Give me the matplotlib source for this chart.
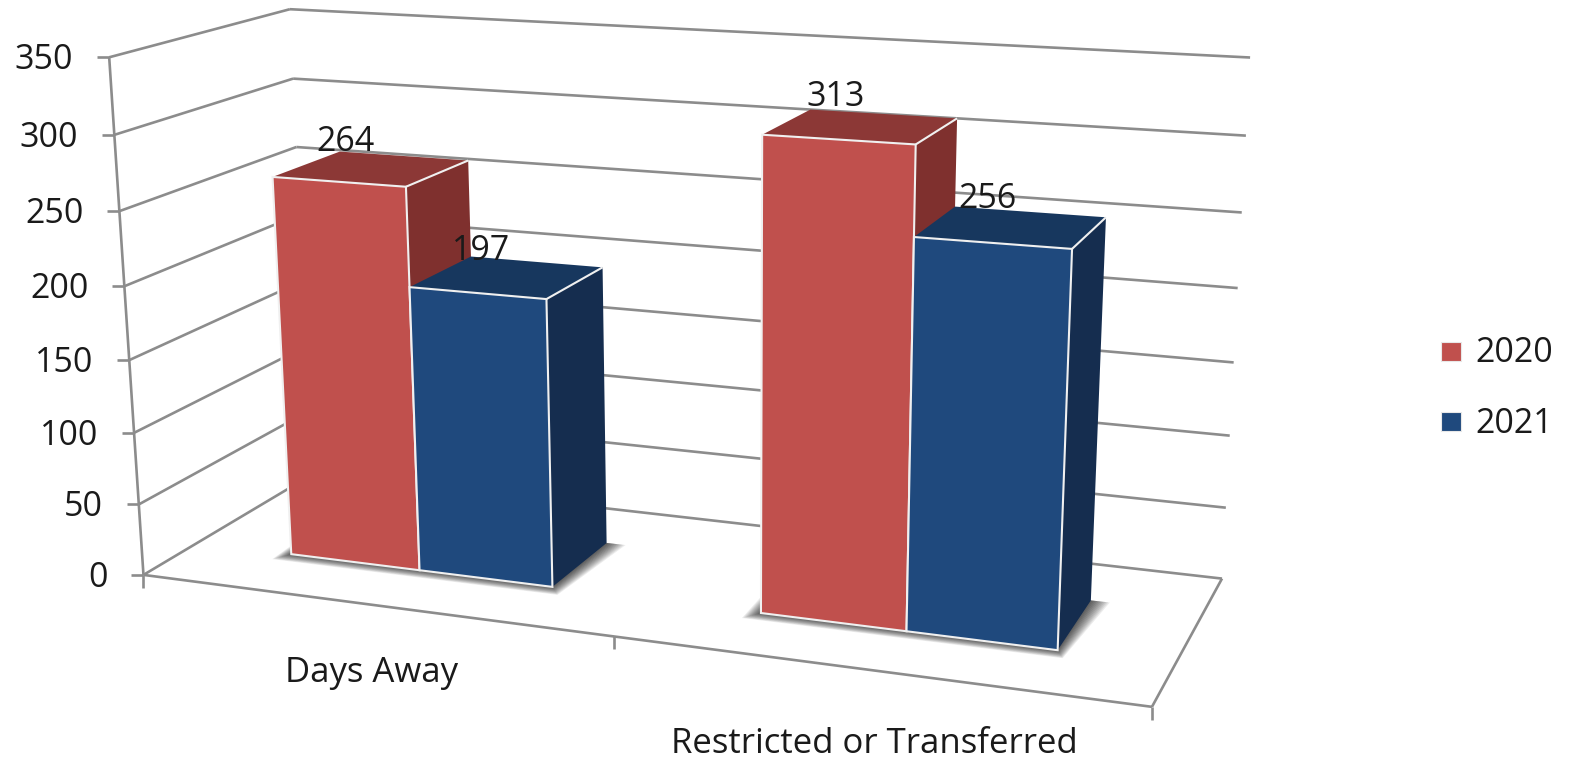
import numpy as np
import matplotlib
matplotlib.use('Agg')
import matplotlib.pyplot as plt
from matplotlib.patches import Polygon, Rectangle

plt.rcParams['font.family'] = ['Open Sans', 'DejaVu Sans']

# --- data ---
categories = ['Days Away', 'Restricted or Transferred']
series_names = ['2020', '2021']
values_2020 = [264, 313]
values_2021 = [197, 256]
tick_values = [0, 50, 100, 150, 200, 250, 300, 350]

# --- colours (front, top, side) ---
RED = ('#C0504D', '#8C3836', '#7F302E')
BLUE = ('#1F497D', '#17375E', '#152D4F')
GRID = '#8C8C8C'
TEXT = '#1A1A1A'
FS = 24.5

# excel layout: gap width 150%, gap depth 150%
BAR_W = 1 / 3.5
DEPTH_0, DEPTH_1 = 0.3, 0.7
ZMAX = tick_values[-1]
NCAT = len(categories)

# frame corners of the 3d box -> pixels, used to fit the camera matrix
frame = [
    (0, 0, 350, 111.7, 56.7), (0, 1, 350, 289.0, 9.3), (2, 1, 350, 1250.0, 57.7),
    (0, 0, 0, 140.7, 576.7), (2, 0, 0, 1151.7, 706.0), (2, 1, 0, 1221.7, 579.0),
    (0, 1, 0, 315.0, 473.0), (0, 0, 200, 125.0, 285.7), (0, 1, 300, 291.7, 79.0),
    (0, 1, 250, 295.0, 147.7), (2, 1, 300, 1246.7, 135.3), (2, 1, 250, 1241.7, 212.3),
    (2, 1, 50, 1225.7, 508.3),
]
A, b = [], []
for x, d, z, px, py in frame:
    A.append([x, d, z, 1, 0, 0, 0, 0, -px * x, -px * d, -px * z])
    A.append([0, 0, 0, 0, x, d, z, 1, -py * x, -py * d, -py * z])
    b += [px, py]
cam = np.append(np.linalg.lstsq(np.array(A, float), np.array(b, float), rcond=None)[0], 1).reshape(3, 4)


def pr(x, d, z):
    u, v, w = cam @ np.array([x, d, z, 1.0])
    return u / w, v / w


fig = plt.figure(figsize=(15.70, 7.62), dpi=100)
ax = fig.add_axes([0, 0, 1, 1])
ax.set_xlim(0, 1570)
ax.set_ylim(762, 0)
ax.axis('off')


def line(p, q, lw=1.9, color=GRID, zo=1):
    ax.plot([p[0], q[0]], [p[1], q[1]], color=color, lw=lw, zorder=zo, solid_capstyle='butt')


# walls and grid
for t in tick_values:
    line(pr(0, 0, t), pr(0, 1, t))
    line(pr(0, 1, t), pr(NCAT, 1, t))
    tx, ty = pr(0, 0, t)
    line((tx - 12, ty), (tx, ty))
    ax.text(tx - 36, ty + 3, str(t), ha='right', va='center', fontsize=FS, color=TEXT)
line(pr(0, 0, 0), pr(0, 0, ZMAX))
line(pr(0, 0, 0), pr(NCAT, 0, 0))
line(pr(NCAT, 0, 0), pr(NCAT, 1, 0))
for i in range(NCAT + 1):
    tx, ty = pr(i, 0, 0)
    line((tx, ty), (tx, ty + 13))

# bars
cat_dy = [68, 74]
for i, cat in enumerate(categories):
    c = i + 0.5
    fl = np.array(pr(c - BAR_W, DEPTH_0, 0))
    fr = np.array(pr(c + BAR_W, DEPTH_0, 0))
    br = np.array(pr(c + BAR_W, DEPTH_1, 0))
    bl = np.array(pr(c - BAR_W, DEPTH_1, 0))
    # soft floor shadow, stacked translucent copies
    for k in range(1, 13):
        t = k / 12
        pts = [fl + (-19 * t, 5 * t), fr + (5 * t, 8 * t), br + (19 * t, 2 * t), bl + (-19 * t, 0)]
        ax.add_patch(Polygon(pts, closed=True, fc='black', ec='none', alpha=0.075, zorder=2))

    for x0, val, (front, top, side) in [(c - BAR_W, values_2020[i], RED), (c, values_2021[i], BLUE)]:
        x1 = x0 + BAR_W
        ax.add_patch(Polygon([pr(x1, DEPTH_0, 0), pr(x1, DEPTH_1, 0), pr(x1, DEPTH_1, val), pr(x1, DEPTH_0, val)],
                             fc=side, ec='none', zorder=3))
        ax.add_patch(Polygon([pr(x0, DEPTH_0, val), pr(x1, DEPTH_0, val), pr(x1, DEPTH_1, val), pr(x0, DEPTH_1, val)],
                             fc=top, ec='none', zorder=3))
        ax.add_patch(Polygon([pr(x0, DEPTH_0, 0), pr(x1, DEPTH_0, 0), pr(x1, DEPTH_0, val), pr(x0, DEPTH_0, val)],
                             fc=front, ec='#F0F0F0', lw=1.5, zorder=3))
        line(pr(x1, DEPTH_0, val), pr(x1, DEPTH_1, val), lw=1.5, color='#F0F0F0', zo=3)

    lx, ly = pr(c, 0, 0)
    ax.text(lx, ly + cat_dy[i], cat, ha='center', va='center', fontsize=25, color=TEXT)

# value labels, sit on the back left corner of the top face
label_dx = [[6, 25], [10, 32]]
label_dy = [[-1, -4], [3, 1]]
for s, vals in enumerate([values_2020, values_2021]):
    for i, val in enumerate(vals):
        x0 = i + 0.5 - BAR_W + s * BAR_W
        lx, ly = pr(x0, DEPTH_1, val)
        ax.text(lx + label_dx[s][i], ly + label_dy[s][i], str(val), ha='center', va='baseline',
                fontsize=FS, color=TEXT, zorder=5)

# legend
for name, col, yc, ty in zip(series_names, [RED[0], BLUE[0]], [351, 421], [353, 424]):
    ax.add_patch(Rectangle((1441, yc - 9.5), 20, 19, fc=col, ec='#E8E8E8', lw=0.8))
    ax.text(1475, ty, name, ha='left', va='center', fontsize=FS, color=TEXT)

fig.savefig('out.png', dpi=100)
